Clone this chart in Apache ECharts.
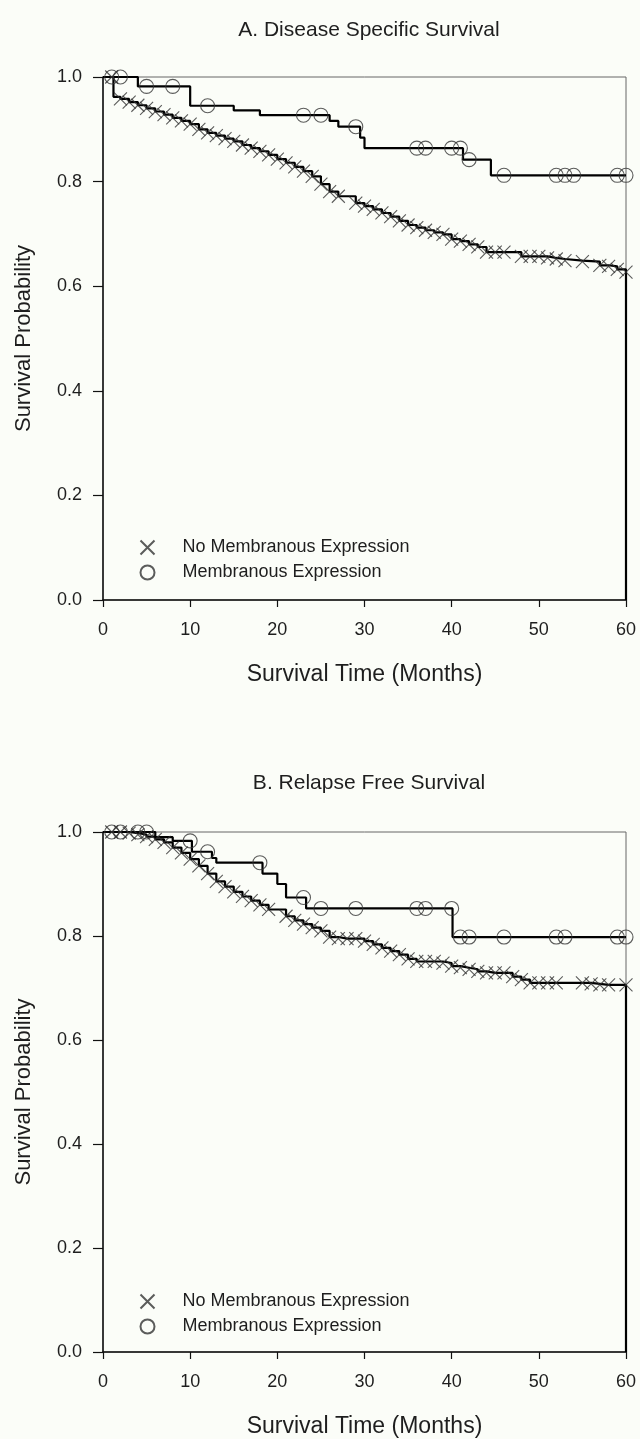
<!DOCTYPE html>
<html>
<head>
<meta charset="utf-8">
<script src="https://cdn.jsdelivr.net/npm/echarts@6/dist/echarts.min.js"></script>
<style>
  html, body { margin: 0; padding: 0; background: #fbfdf8; }
  #chart { width: 640px; height: 1439px; }
</style>
</head>
<body>
<div id="chart"></div>
<script>
// ---------- data ----------
const panelTitles = ['A. Disease Specific Survival', 'B. Relapse Free Survival'];
const groupNames = ['No Membranous Expression', 'Membranous Expression'];
const xTitle = 'Survival Time (Months)';
const yTitle = 'Survival Probability';

// Panel A: Disease specific survival
const dssNoMemCurve = [[0,1],[1.2,0.962],[2,0.958],[3,0.952],[4,0.946],[5,0.94],[6,0.934],[7,0.928],[8,0.922],[9,0.916],[10,0.91],[11,0.9],[12,0.893],[13,0.888],[14,0.882],[15,0.877],[16,0.87],[17,0.864],[18,0.858],[19,0.851],[20,0.843],[21,0.836],[22,0.828],[23,0.82],[24,0.81],[25,0.795],[26,0.781],[27,0.772],[29,0.759],[30,0.753],[31,0.747],[32,0.74],[33,0.733],[34,0.725],[35,0.717],[36,0.712],[37,0.707],[38,0.703],[39,0.699],[40,0.69],[41,0.686],[42,0.68],[43,0.675],[44,0.665],[45,0.665],[46,0.665],[48,0.657],[49,0.657],[50,0.657],[51,0.654],[52,0.652],[53,0.649],[55,0.647],[57,0.64],[58,0.638],[59,0.632],[60,0.627],[60,0]];
const dssNoMemCensor = [[1,1],[2,0.958],[3,0.952],[4,0.946],[5,0.94],[6,0.934],[7,0.928],[8,0.922],[9,0.916],[10,0.91],[11,0.9],[12,0.893],[13,0.888],[14,0.882],[15,0.877],[16,0.87],[17,0.864],[18,0.858],[19,0.851],[20,0.843],[21,0.836],[22,0.828],[23,0.82],[24,0.81],[25,0.795],[26,0.781],[27,0.772],[29,0.759],[30,0.753],[31,0.747],[32,0.74],[33,0.733],[34,0.725],[35,0.717],[36,0.712],[37,0.707],[38,0.703],[39,0.699],[40,0.69],[41,0.686],[42,0.68],[43,0.675],[44,0.665],[45,0.665],[46,0.665],[48,0.657],[49,0.657],[50,0.657],[51,0.654],[52,0.652],[53,0.649],[55,0.647],[57,0.64],[58,0.638],[59,0.632],[60,0.627]];
const dssMemCurve = [[0,1],[4,0.982],[10,0.945],[15,0.936],[18,0.927],[26,0.916],[27,0.905],[29.5,0.884],[30,0.864],[41.3,0.842],[44.5,0.812],[60,0.812]];
const dssMemCensor = [[1,1],[2,1],[5,0.982],[8,0.982],[12,0.945],[23,0.927],[25,0.927],[29,0.905],[36,0.864],[37,0.864],[40,0.864],[41,0.864],[42,0.842],[46,0.812],[52,0.812],[53,0.812],[54,0.812],[59,0.812],[60,0.812]];

// Panel B: Relapse free survival
const rfsNoMemCurve = [[0,1],[1,1],[2,1],[3,0.998],[4,0.995],[5,0.991],[6,0.986],[7,0.98],[8,0.97],[9,0.96],[10,0.948],[11,0.935],[12,0.92],[13,0.905],[14,0.895],[15,0.885],[16,0.876],[17,0.868],[18,0.86],[19,0.851],[21,0.838],[22,0.83],[23,0.823],[24,0.816],[25,0.81],[26,0.798],[27,0.795],[28,0.795],[29,0.795],[30,0.79],[31,0.784],[32,0.777],[33,0.771],[34,0.764],[35,0.756],[36,0.751],[37,0.751],[38,0.751],[39,0.748],[40,0.742],[41,0.739],[42,0.736],[43,0.732],[44,0.729],[45,0.729],[46,0.729],[47,0.722],[48,0.716],[49,0.71],[50,0.71],[51,0.71],[52,0.71],[55,0.71],[56,0.708],[57,0.706],[58,0.706],[60,0.706],[60,0]];
const rfsNoMemCensor = [[1,1],[2,1],[3,0.998],[4,0.995],[5,0.991],[6,0.986],[7,0.98],[8,0.97],[9,0.96],[10,0.948],[11,0.935],[12,0.92],[13,0.905],[14,0.895],[15,0.885],[16,0.876],[17,0.868],[18,0.86],[19,0.851],[21,0.838],[22,0.83],[23,0.823],[24,0.816],[25,0.81],[26,0.798],[27,0.795],[28,0.795],[29,0.795],[30,0.79],[31,0.784],[32,0.777],[33,0.771],[34,0.764],[35,0.756],[36,0.751],[37,0.751],[38,0.751],[39,0.748],[40,0.742],[41,0.739],[42,0.736],[43,0.732],[44,0.729],[45,0.729],[46,0.729],[47,0.722],[48,0.716],[49,0.71],[50,0.71],[51,0.71],[52,0.71],[55,0.71],[56,0.708],[57,0.706],[58,0.706],[60,0.706]];
const rfsMemCurve = [[0,1],[6,0.99],[8,0.983],[10.2,0.962],[12.5,0.95],[13,0.941],[18.3,0.92],[20,0.9],[21,0.874],[23.3,0.853],[40.1,0.798],[60,0.798]];
const rfsMemCensor = [[1,1],[2,1],[4,1],[5,1],[10,0.983],[12,0.962],[18,0.941],[23,0.874],[25,0.853],[29,0.853],[36,0.853],[37,0.853],[40,0.853],[41,0.798],[42,0.798],[46,0.798],[52,0.798],[53,0.798],[59,0.798],[60,0.798]];

// ---------- chart ----------
const FONT = '"Liberation Sans", Arial, sans-serif';
const TXT = '#1e1e1e';
const CROSS = 'path://M0,0L10,10M0,10L10,0';

const grids = [
  { left: 103, top: 77, width: 523, height: 523 },
  { left: 103, top: 832, width: 523, height: 521 }
];

function xAxisFor(i) {
  return {
    gridIndex: i, type: 'value', min: 0, max: 60, interval: 10,
    name: xTitle, nameLocation: 'middle', nameGap: 63,
    nameTextStyle: { fontFamily: FONT, fontSize: 23, color: TXT },
    axisLine: { lineStyle: { color: '#111', width: 1.5 } },
    axisTick: { length: 7, lineStyle: { color: '#111', width: 1.2 } },
    axisLabel: { margin: 21, fontFamily: FONT, fontSize: 18, color: TXT },
    splitLine: { show: false }
  };
}
function yAxisFor(i) {
  return {
    gridIndex: i, type: 'value', min: 0, max: 1, interval: 0.2,
    name: yTitle, nameLocation: 'middle', nameGap: 68, nameRotate: 90,
    nameTextStyle: { fontFamily: FONT, fontSize: 22, color: TXT },
    axisLine: { lineStyle: { color: '#111', width: 1.5 } },
    axisTick: { length: 10, lineStyle: { color: '#111', width: 1.2 } },
    axisLabel: { margin: 21, fontFamily: FONT, fontSize: 18, color: TXT, formatter: v => v.toFixed(1) },
    splitLine: { show: false }
  };
}

function lineSeries(i, data, name) {
  return {
    name: name, type: 'line', xAxisIndex: i, yAxisIndex: i, data: data,
    step: 'end', showSymbol: false, symbol: 'none', silent: true,
    lineStyle: { color: '#000', width: 2.2 }, z: 3
  };
}
function censorSeries(i, data, name, isCross) {
  return {
    name: name, type: 'scatter', xAxisIndex: i, yAxisIndex: i, data: data,
    symbol: isCross ? CROSS : 'circle', symbolSize: isCross ? 13 : 14,
    itemStyle: { color: 'none', borderColor: '#333', borderWidth: 1.1 },
    z: 4
  };
}

const legendCommon = {
  orient: 'vertical', left: 133, itemWidth: 60, itemHeight: 14, itemGap: 6,
  selectedMode: false,
  textStyle: { fontFamily: FONT, fontSize: 18, color: TXT }
};

const option = {
  backgroundColor: '#fbfdf8',
  animation: false,
  title: [
    { text: panelTitles[0], left: 364, top: 15, textAlign: 'center',
      textStyle: { fontFamily: FONT, fontSize: 21, fontWeight: 'normal', color: TXT } },
    { text: panelTitles[1], left: 364, top: 768, textAlign: 'center',
      textStyle: { fontFamily: FONT, fontSize: 21, fontWeight: 'normal', color: TXT } }
  ],
  legend: [
    Object.assign({}, legendCommon, { top: 533, data: [groupNames[0], groupNames[1]] }),
    Object.assign({}, legendCommon, { top: 1287, data: [groupNames[0] + ' ', groupNames[1] + ' '], formatter: n => n.trim() })
  ],
  grid: grids.map(g => Object.assign({ show: true, borderColor: '#666', borderWidth: 1, backgroundColor: 'transparent' }, g)),
  xAxis: [xAxisFor(0), xAxisFor(1)],
  yAxis: [yAxisFor(0), yAxisFor(1)],
  series: [
    lineSeries(0, dssNoMemCurve, 'A-curve-no'),
    lineSeries(0, dssMemCurve, 'A-curve-mem'),
    censorSeries(0, dssNoMemCensor, groupNames[0], true),
    censorSeries(0, dssMemCensor, groupNames[1], false),
    lineSeries(1, rfsNoMemCurve, 'B-curve-no'),
    lineSeries(1, rfsMemCurve, 'B-curve-mem'),
    censorSeries(1, rfsNoMemCensor, groupNames[0] + ' ', true),
    censorSeries(1, rfsMemCensor, groupNames[1] + ' ', false)
  ]
};

const chart = echarts.init(document.getElementById('chart'), null, { renderer: 'canvas' });
chart.setOption(option);
</script>
</body>
</html>
